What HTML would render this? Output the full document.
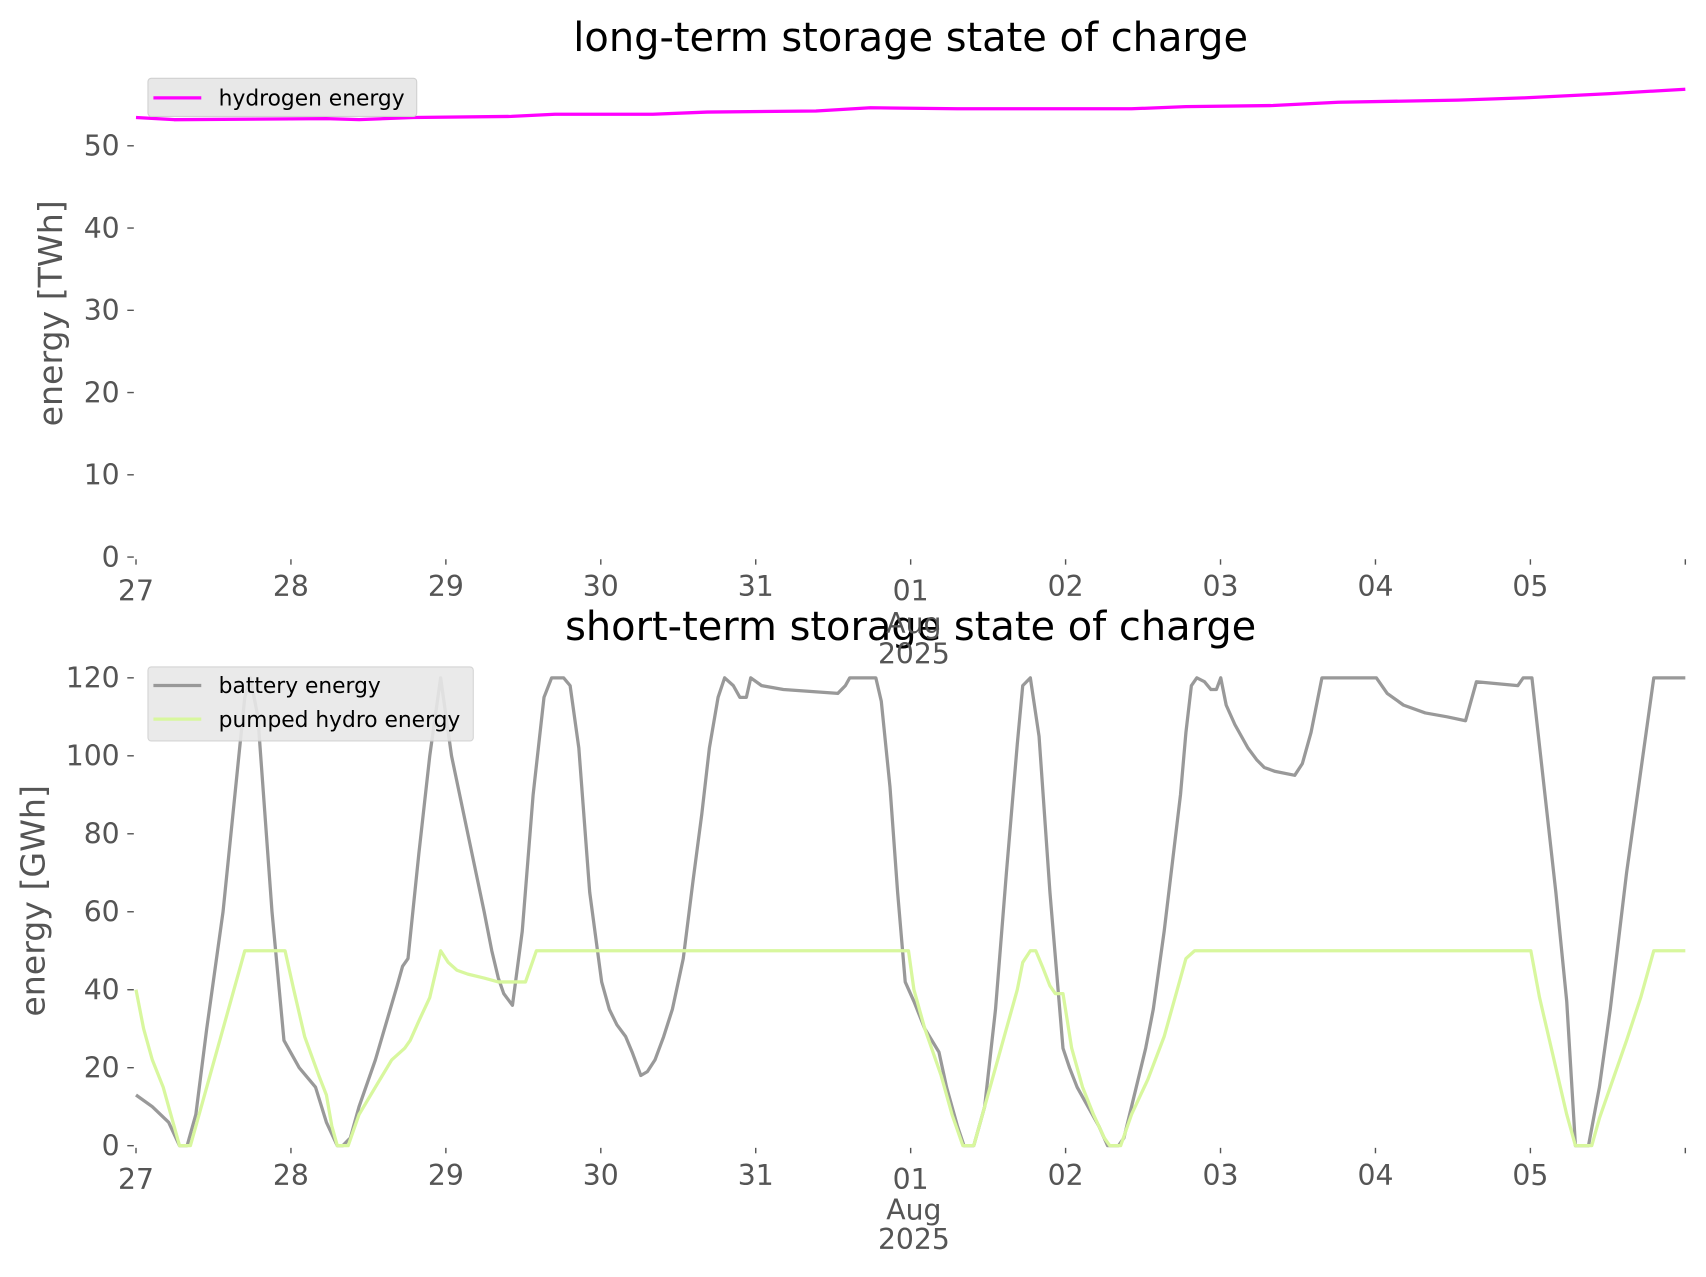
<!DOCTYPE html>
<html><head><meta charset="utf-8"><style>
html,body{margin:0;padding:0;background:#fff;}
svg{display:block;font-family:"DejaVu Sans","Liberation Sans",sans-serif;}
.tk{fill:#555;font-size:26px;}
.ax{fill:#555;font-size:30.5px;}
.tt{fill:#000;font-size:36.7px;}
.lg{fill:#000;font-size:20px;}
</style></head><body>
<svg id="s" width="1706" height="1277" viewBox="0 0 1568 1173.7" preserveAspectRatio="none" xmlns="http://www.w3.org/2000/svg">
<text class="tt" x="837" y="47" text-anchor="middle">long-term storage state of charge</text>
<text class="tt" x="837" y="588" text-anchor="middle">short-term storage state of charge</text>
<text class="ax" transform="translate(57,288) rotate(-90)" text-anchor="middle">energy [TWh]</text>
<text class="ax" transform="translate(41,828) rotate(-90)" text-anchor="middle">energy [GWh]</text>
<g id="ticks" stroke="#555" stroke-width="1.3"></g>
<g id="labels"></g>
<polyline id="h2" fill="none" stroke="#ff00ff" stroke-width="3" stroke-linejoin="round"/>
<polyline id="bat" fill="none" stroke="#999" stroke-width="3" stroke-linejoin="round"/>
<polyline id="phs" fill="none" stroke="#d8f79e" stroke-width="3" stroke-linejoin="round"/>
<rect x="136" y="72" width="247" height="35" rx="3" fill="#e8e8e8" stroke="#d0d0d0"/>
<line x1="141" y1="90" x2="185" y2="90" stroke="#ff00ff" stroke-width="3"/>
<text class="lg" x="201" y="97">hydrogen energy</text>
<rect x="136" y="613" width="299" height="68" rx="3" fill="#e8e8e8" stroke="#d0d0d0" opacity="0.9"/>
<line x1="141" y1="630" x2="185" y2="630" stroke="#999" stroke-width="3"/>
<text class="lg" x="201" y="637">battery energy</text>
<line x1="141" y1="661" x2="185" y2="661" stroke="#d8f79e" stroke-width="3"/>
<text class="lg" x="201" y="668">pumped hydro energy</text>
<text class="tk" x="840" y="582" text-anchor="middle">Aug</text>
<text class="tk" x="840" y="610" text-anchor="middle">2025</text>
<text class="tk" x="840" y="1121" text-anchor="middle">Aug</text>
<text class="tk" x="840" y="1148" text-anchor="middle">2025</text>
</svg>
<script>
var NS="http://www.w3.org/2000/svg";
function el(t,a,txt,p){var e=document.createElementNS(NS,t);for(var k in a)e.setAttribute(k,a[k]);if(txt!=null)e.textContent=txt;document.getElementById(p).appendChild(e);}
var days=["27","28","29","30","31","01","02","03","04","05",""];
[[512,548],[1053,1089]].forEach(function(r){
 for(var i=0;i<=10;i++){var x=125+142.4*i;
  el("line",{x1:x,y1:r[0]+2,x2:x,y2:r[0]+7},null,"ticks");
  if(days[i])el("text",{"class":"tk",x:x,y:r[1]+(i==0||i==5?4:0),"text-anchor":"middle"},days[i],"labels");}
});
for(var v=0;v<=50;v+=10){var y=512-v*7.56;el("line",{x1:117,y1:y,x2:123,y2:y},null,"ticks");el("text",{"class":"tk",x:110,y:y+9,"text-anchor":"end"},String(v),"labels");}
for(var v=0;v<=120;v+=20){var y=1053-v*3.5833;el("line",{x1:117,y1:y,x2:123,y2:y},null,"ticks");el("text",{"class":"tk",x:110,y:y+9,"text-anchor":"end"},String(v),"labels");}
var h=[125,108,160,110,300,109,330,110,380,108,470,107,510,105,600,105,650,103,750,102,800,99,880,100,1040,100,1090,98,1170,97,1230,94,1340,92,1400,90,1480,86,1549,82];
var b=[125,13,140,10,155,6,165,0,172,0,180,8,190,30,205,60,225,115,230,120,237,110,250,60,261,27,275,20,290,15,300,6,310,0,315,0,322,2,330,10,345,22,365,41,370,46,375,48,385,75,395,100,405,120,415,100,430,80,445,60,452,50,458,43,463,39,471,36,480,55,490,90,500,115,507,120,518,120,524,118,532,102,542,65,553,42,560,35,567,31,575,28,581,24,589,18,595,19,602,22,610,28,618,35,628,48,637,68,645,85,652,102,660,115,666,120,674,118,680,115,686,115,690,120,700,118,720,117,770,116,777,118,781,120,805,120,810,114,818,92,825,65,832,42,840,37,850,30,863,24,870,15,880,5,886,0,895,0,905,10,915,35,925,70,935,103,940,118,947,120,955,105,965,65,977,25,983,20,990,15,1000,10,1010,5,1018,0,1028,0,1033,2,1040,10,1053,25,1060,35,1070,55,1085,90,1090,106,1095,118,1100,120,1107,119,1113,117,1118,117,1122,120,1127,113,1135,108,1147,102,1155,99,1162,97,1172,96,1190,95,1197,98,1205,106,1215,120,1265,120,1275,116,1290,113,1310,111,1330,110,1347,109,1357,119,1395,118,1400,120,1408,120,1420,90,1430,65,1440,37,1448,0,1460,0,1470,15,1480,35,1495,70,1505,90,1515,110,1520,120,1549,120];
var p=[125,40,132,30,140,22,150,15,157,8,165,0,175,0,185,10,200,25,215,40,225,50,262,50,270,40,280,28,293,18,300,13,305,5,310,0,320,0,330,8,345,15,360,22,372,25,377,27,385,32,395,38,405,50,412,47,420,45,430,44,445,43,458,42,483,42,493,50,835,50,840,40,850,30,865,18,875,8,885,0,895,0,905,10,920,25,935,40,940,47,947,50,952,50,958,46,965,41,970,39,977,39,985,25,995,15,1005,8,1015,2,1020,0,1030,0,1040,8,1055,17,1070,28,1080,38,1090,48,1098,50,1407,50,1415,38,1430,20,1440,8,1448,0,1463,0,1470,7,1480,15,1495,27,1508,38,1520,50,1549,50];
function pts(a,f){var s=[];for(var i=0;i<a.length;i+=2)s.push(a[i]+","+f(a[i+1]));return s.join(" ");}
document.getElementById("h2").setAttribute("points",pts(h,function(y){return y;}));
document.getElementById("bat").setAttribute("points",pts(b,function(v){return 1053-v*3.5833;}));
document.getElementById("phs").setAttribute("points",pts(p,function(v){return 1053-v*3.5833;}));
</script>
</body></html>
